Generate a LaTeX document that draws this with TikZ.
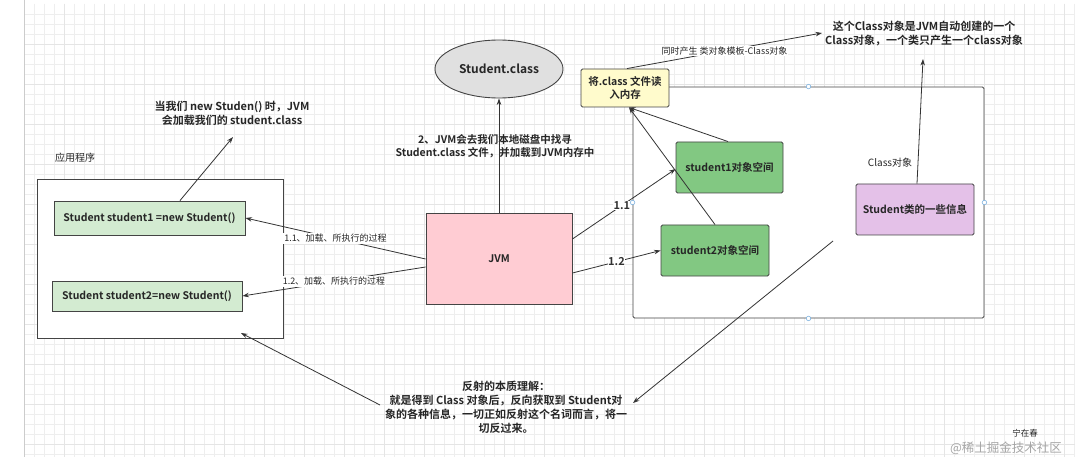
\documentclass[tikz,border=0pt]{standalone}
\usepackage{fontspec}
\setmainfont{Noto Sans CJK SC}[BoldFont={Noto Sans CJK SC Bold}]
\usetikzlibrary{arrows.meta,shapes.geometric,calc}
\definecolor{edgec}{HTML}{333333}
\definecolor{bordc}{HTML}{444444}
\definecolor{gridc}{HTML}{EEEEEE}
\definecolor{lgreen}{HTML}{D3EBD1}
\definecolor{mgreen}{HTML}{82C882}
\definecolor{pinkc}{HTML}{FFCCD3}
\definecolor{purplec}{HTML}{E4C1E8}
\definecolor{yellowc}{HTML}{FFFBCC}
\definecolor{ellc}{HTML}{E0E0E0}
\definecolor{handlec}{HTML}{7FB3E0}
\tikzset{
  boxnode/.style={draw=bordc, line width=0.9pt, rounded corners=1.5pt, inner sep=0pt, align=center,
    font=\bfseries\fontsize{10.5}{13}\selectfont, text=black!85},
  plainrect/.style={draw=bordc, line width=0.9pt, inner sep=0pt},
  arr/.style={draw=edgec, line width=0.8pt, -{Stealth[length=6.5pt,width=4.5pt]}},
  ln/.style={draw=edgec, line width=0.8pt},
  lbl/.style={fill=white, inner sep=1pt, font=\fontsize{9}{11}\selectfont, text=black!85},
  numlbl/.style={fill=white, inner sep=0.5pt, font=\bfseries\fontsize{11}{13}\selectfont, text=black!80},
  txt/.style={inner sep=0pt, align=center, font=\bfseries\fontsize{11}{14}\selectfont, text=black!85},
  handle/.style={draw=handlec, fill=white, line width=0.6pt, circle, inner sep=0pt, minimum size=4.5pt}
}
\begin{document}
\begin{tikzpicture}[x=1pt,y=-1pt]
\useasboundingbox (0,0) rectangle (1079,457);
\fill[white] (0,0) rectangle (1079,457);
% background grid
\foreach \x in {34,44,...,1074} \draw[gridc, line width=0.4pt] (\x,4) -- (\x,457);
\foreach \y in {14,24,...,454} \draw[gridc, line width=0.4pt] (24,\y) -- (1075,\y);
\foreach \x in {64,104,...,1064} \draw[black!10, line width=0.4pt] (\x,4) -- (\x,457);
\foreach \y in {44,84,...,444} \draw[black!10, line width=0.4pt] (24,\y) -- (1075,\y);
\draw[black!20, line width=0.8pt] (24,0) -- (24,457);

% application area
\node[plainrect, fill=white, minimum width=246pt, minimum height=159pt] (app) at (160,258.5) {};
\node[anchor=west, inner sep=0pt, font=\fontsize{10}{12}\selectfont, text=black!85] (applbl) at (55,158) {应用程序};
\node[boxnode, fill=lgreen, rounded corners=0pt, minimum width=191pt, minimum height=34pt] (s1code) at (149.5,218) {Student student1 =new Student()};
\node[boxnode, fill=lgreen, rounded corners=0pt, minimum width=190pt, minimum height=30pt] (s2code) at (147,296) {Student student2=new Student()};

% class area
\node[plainrect, rounded corners=1.5pt, fill=white, minimum width=351pt, minimum height=231pt] (big) at (808.5,202.5) {};
\node[boxnode, fill=yellowc, minimum width=88pt, minimum height=38pt] (yel) at (625,88) {将.class 文件读\\入内存};
\node[boxnode, fill=mgreen, minimum width=107pt, minimum height=51pt] (obj1) at (729.5,167.5) {student1对象空间};
\node[boxnode, fill=mgreen, minimum width=108pt, minimum height=51pt] (obj2) at (715,250.5) {student2对象空间};
\node[boxnode, fill=purplec, minimum width=118pt, minimum height=51pt] (info) at (915,209.5) {Student类的一些信息};
\node[inner sep=0pt, font=\fontsize{10}{12}\selectfont, text=black!85] (clslbl) at (890,163) {Class对象};

% JVM and class file
\node[boxnode, fill=pinkc, rounded corners=0pt, minimum width=146pt, minimum height=91pt] (jvm) at (499,258.5) {JVM};
\node[ellipse, draw=bordc, line width=0.9pt, fill=ellc, minimum width=128pt, minimum height=58pt, inner sep=0pt,
  font=\bfseries\fontsize{12}{14}\selectfont, text=black!85] (ell) at (499,69) {Student.class};

% notes
\node[txt] (note1) at (232,113.5) {当我们 new Studen() 时，JVM\\会加载我们的 student.class};
\node[txt, font=\bfseries\fontsize{10.5}{13}\selectfont] (note2) at (495,146.5) {2、JVM会去我们本地磁盘中找寻\\Student.class 文件，并加载到JVM内存中};
\node[txt] (clsnote) at (924,34) {这个Class对象是JVM自动创建的一个\\Class对象，一个类只产生一个class对象};
\node[txt] (refl) at (506,407) {反射的本质理解：\\就是得到 Class 对象后，反向获取到 Student对\\象的各种信息，一切正如反射这个名词而言，将一\\切反过来。};
\node[inner sep=0pt, font=\fontsize{8.5}{10}\selectfont, text=black!85] (author) at (1025,433) {宁在春};
\node[inner sep=0pt, font=\fontsize{12.5}{14}\selectfont, text=black!35] (wm) at (1006,448) {@稀土掘金技术社区};

% free ends
\coordinate (n1tip) at (233,137);
\coordinate (ctip) at (822,33);
\coordinate (cnTip) at (923,59);
\coordinate (rstart) at (833,241);
\coordinate (rtip) at (633,403);
\coordinate (bstart) at (380,405);
\coordinate (btip) at (241,333);

% connectors
\draw[arr] ([xshift=30.5pt]s1code.north) -- (n1tip);
\draw[arr] ([yshift=-0.5pt]jvm.west) -- (s1code.east) node[lbl, midway] {1.1、加载、所执行的过程};
\draw[arr] ([yshift=-8.5pt]jvm.west) -- (s2code.east) node[lbl, midway] {1.2、加载、所执行的过程};
\draw[arr] (jvm.north) -- (ell.south);
\draw[arr] ([yshift=19.5pt]jvm.east) -- ([yshift=-1.5pt]obj1.west) node[numlbl, pos=0.48] {1.1};
\draw[arr] ([yshift=-14.5pt]jvm.east) -- (obj2.west) node[numlbl, pos=0.5] {1.2};
\draw[arr] ([xshift=-1.5pt]obj1.north) -- ([xshift=4pt]yel.south);
\draw[arr] (obj2.north) -- ([xshift=4pt]yel.south);
\draw[arr] ([xshift=2pt]yel.north) -- (ctip) node[lbl, midway] {同时产生 类对象模板-Class对象};
\draw[arr] ([xshift=2pt]info.north) -- (cnTip);
\draw[arr] (rstart) -- (rtip);
\draw[arr] (bstart) -- (btip);

% connection handles
\node[handle] (h1) at (big.north) {};
\node[handle] (h2) at (big.east) {};
\node[handle] (h3) at (big.south) {};
\node[handle] (h4) at (big.west) {};
\end{tikzpicture}
\end{document}
